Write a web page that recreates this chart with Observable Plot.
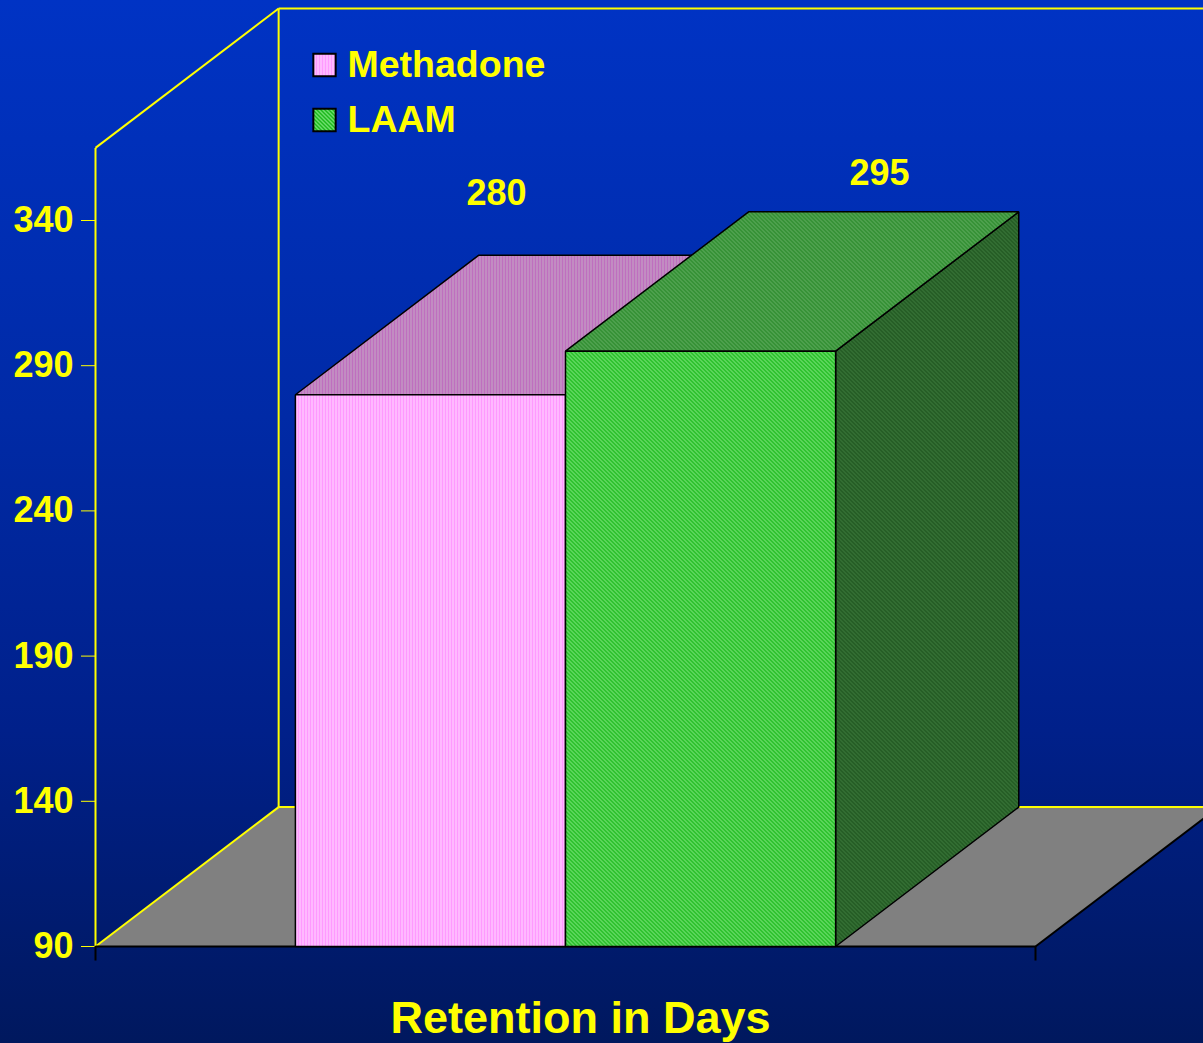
<!DOCTYPE html>
<html>
<head>
<meta charset="utf-8">
<script src="https://cdn.jsdelivr.net/npm/d3@7"></script>
<script src="https://cdn.jsdelivr.net/npm/@observablehq/plot@0.6"></script>
<style>
  html, body { margin: 0; padding: 0; }
  body {
    width: 1203px; height: 1043px; overflow: hidden;
    background: linear-gradient(to bottom, #0033c4 0%, #002aa6 40%, #00208a 70%, #00185e 100%);
  }
  #chart svg { display: block; }
</style>
</head>
<body>
<div id="chart"></div>
<script>
// ---- data ----
const categories = ["Methadone", "LAAM"];
const retentionDays = [280, 295];
const yTicks = [90, 140, 190, 240, 290, 340];
const axisTitle = "Retention in Days";

// ---- 3D layout constants (data units) ----
const BASE = 90;          // floor value
const WALL_TOP = 365;     // top of the walls (value)
const PAD = 0.74;         // gap before/after bars, in bar widths
const DX = 0.678;         // depth offset along x (bar widths)
const DY = 48;            // depth offset along y (value units)
const XMAX = 2 * PAD + categories.length;
const TICK = 5;           // length of bottom axis ticks (value units)

const bars = categories.map((name, i) => ({name, value: retentionDays[i], x0: PAD + i, x1: PAD + i + 1}));

const P = (x, y) => ({x, y});
const frontFace = b => [P(b.x0, BASE), P(b.x1, BASE), P(b.x1, b.value), P(b.x0, b.value)];
const topFace = b => [P(b.x0, b.value), P(b.x1, b.value), P(b.x1 + DX, b.value + DY), P(b.x0 + DX, b.value + DY)];
const sideFace = b => [P(b.x1, BASE), P(b.x1 + DX, BASE + DY), P(b.x1 + DX, b.value + DY), P(b.x1, b.value)];
const floor = [P(0, BASE), P(XMAX, BASE), P(XMAX + DX, BASE + DY), P(DX, BASE + DY)];

const wallLines = [
  {x1: 0, y1: BASE, x2: 0, y2: WALL_TOP},
  {x1: 0, y1: WALL_TOP, x2: DX, y2: WALL_TOP + DY},
  {x1: DX, y1: BASE + DY, x2: DX, y2: WALL_TOP + DY},
  {x1: DX, y1: WALL_TOP + DY, x2: XMAX + DX + 1, y2: WALL_TOP + DY}
];
const floorYellow = [
  {x1: 0, y1: BASE, x2: DX, y2: BASE + DY},
  {x1: DX, y1: BASE + DY, x2: XMAX + DX, y2: BASE + DY}
];
const floorBlack = [
  {x1: 0, y1: BASE, x2: XMAX, y2: BASE},
  {x1: XMAX, y1: BASE, x2: XMAX + DX, y2: BASE + DY}
];

const fills = {
  Methadone: {front: "url(#pinkFront)", top: "url(#pinkTop)", side: "url(#pinkSide)"},
  LAAM: {front: "url(#greenFront)", top: "url(#greenTop)", side: "url(#greenSide)"}
};

const barMarks = bars.flatMap(b => [
  Plot.line(sideFace(b), {x: "x", y: "y", curve: "linear-closed", fill: fills[b.name].side, stroke: "black", strokeWidth: 1.5, strokeLinejoin: "miter"}),
  Plot.line(topFace(b), {x: "x", y: "y", curve: "linear-closed", fill: fills[b.name].top, stroke: "black", strokeWidth: 1.5, strokeLinejoin: "miter"}),
  Plot.line(frontFace(b), {x: "x", y: "y", curve: "linear-closed", fill: fills[b.name].front, stroke: "black", strokeWidth: 1.5, strokeLinejoin: "miter"})
]);

const labelOffsets = [{dx: 66, dy: -62}, {dx: 179, dy: -38}];
const valueLabels = bars.map((b, i) => Plot.text([b], {
  x: d => (d.x0 + d.x1) / 2, y: d => d.value + DY, text: d => String(d.value),
  dx: labelOffsets[i].dx, dy: labelOffsets[i].dy,
  fill: "#ffff00", fontSize: 36, fontWeight: "bold", textAnchor: "middle", lineAnchor: "middle"
}));

const legendMarks = categories.flatMap((name, i) => [
  Plot.dot([name], {frameAnchor: "top-left", dx: 229, dy: 64.5 + 55 * i, symbol: "square", r: 12.6,
    fill: fills[name].front, stroke: "black", strokeWidth: 2}),
  Plot.text([name], {frameAnchor: "top-left", dx: 252, dy: 64.5 + 55 * i, text: d => d,
    fill: "#ffff00", fontSize: 37.5, fontWeight: "bold", textAnchor: "start", lineAnchor: "middle"})
]);

const chart = Plot.plot({
  width: 1203,
  height: 1043,
  marginLeft: 95, marginRight: 0, marginTop: 0, marginBottom: 0,
  x: {type: "linear", domain: [0, XMAX], range: [95, 1035], axis: null},
  y: {type: "linear", domain: [90, 340], range: [946, 220], ticks: yTicks, tickSize: 14, tickPadding: 8,
      tickFormat: d => String(d), label: null, axis: "left"},
  style: {background: "transparent", color: "#ffff00", fontFamily: "'Liberation Sans', Arial, sans-serif",
          fontWeight: "bold", fontSize: "36px", overflow: "visible"},
  marks: [
    Plot.link(wallLines, {x1: "x1", y1: "y1", x2: "x2", y2: "y2", stroke: "#ffff00", strokeWidth: 2}),
    Plot.line(floor, {x: "x", y: "y", curve: "linear-closed", fill: "#808080", stroke: "none"}),
    Plot.link(floorYellow, {x1: "x1", y1: "y1", x2: "x2", y2: "y2", stroke: "#ffff00", strokeWidth: 2}),
    Plot.link(floorBlack, {x1: "x1", y1: "y1", x2: "x2", y2: "y2", stroke: "black", strokeWidth: 2}),
    Plot.ruleX([0, XMAX], {y1: BASE, y2: BASE - TICK, stroke: "black", strokeWidth: 2}),
    ...barMarks,
    ...valueLabels,
    ...legendMarks,
    Plot.text([axisTitle], {x: XMAX / 2, y: BASE, dx: 15, dy: 72, text: d => d,
      fill: "#ffff00", fontSize: 45, fontWeight: "bold", textAnchor: "middle", lineAnchor: "middle"})
  ]
});

// SVG fill patterns for the bar faces
const diag = (base, light) => `
    <rect width="4" height="4" fill="${base}"/>
    <rect x="0" y="0" width="2" height="1" fill="${light}"/>
    <rect x="1" y="1" width="2" height="1" fill="${light}"/>
    <rect x="2" y="2" width="2" height="1" fill="${light}"/>
    <rect x="3" y="3" width="1" height="1" fill="${light}"/><rect x="0" y="3" width="1" height="1" fill="${light}"/>`;
const defs = `
<defs>
  <pattern id="pinkFront" width="3" height="4" patternUnits="userSpaceOnUse">
    <rect width="3" height="4" fill="#ff99ff"/><rect x="2" width="1" height="4" fill="#ffd8ff"/>
  </pattern>
  <pattern id="pinkTop" width="3" height="4" patternUnits="userSpaceOnUse">
    <rect width="3" height="4" fill="#bf6fbf"/><rect x="2" width="1" height="4" fill="#c4a8c4"/>
  </pattern>
  <pattern id="pinkSide" width="3" height="4" patternUnits="userSpaceOnUse">
    <rect width="3" height="4" fill="#905090"/><rect x="2" width="1" height="4" fill="#a090a0"/>
  </pattern>
  <pattern id="greenFront" width="4" height="4" patternUnits="userSpaceOnUse">${diag("#1cb81c", "#6ede6e")}
  </pattern>
  <pattern id="greenTop" width="4" height="4" patternUnits="userSpaceOnUse">${diag("#2c8a2c", "#58a858")}
  </pattern>
  <pattern id="greenSide" width="4" height="4" patternUnits="userSpaceOnUse">${diag("#205620", "#387538")}
  </pattern>
</defs>`;
chart.insertAdjacentHTML("afterbegin", defs);
document.getElementById("chart").appendChild(chart);
</script>
</body>
</html>
